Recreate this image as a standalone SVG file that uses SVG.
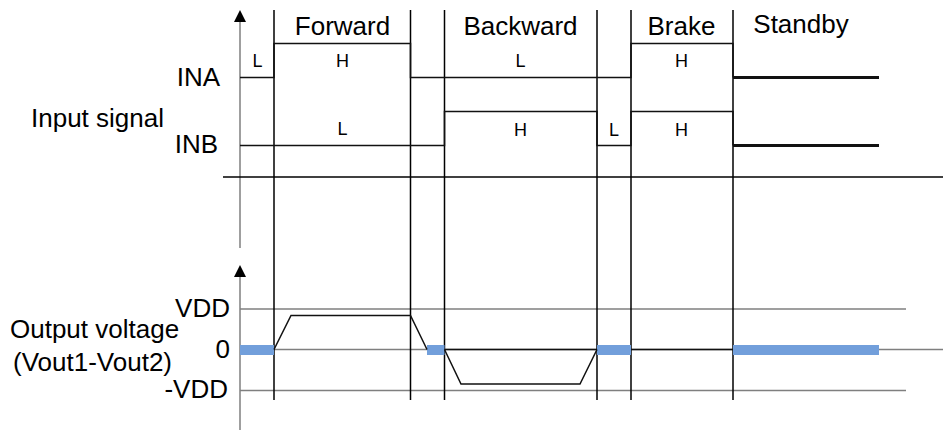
<svg xmlns="http://www.w3.org/2000/svg" width="943" height="430" viewBox="0 0 943 430">
  <style>
    .big { font-family: "Liberation Sans", Arial, sans-serif; font-size: 26px; fill: #000; }
    .small { font-family: "Liberation Sans", Arial, sans-serif; font-size: 18px; fill: #000; text-anchor: middle; }
    .axis { stroke: #7f7f7f; stroke-width: 1.5; fill: none; }
    .grid { stroke: #7f7f7f; stroke-width: 1.5; fill: none; }
    .div { stroke: #000; stroke-width: 1.5; fill: none; }
    .sig { stroke: #111; stroke-width: 1.5; fill: none; }
    .thick { stroke: #111; stroke-width: 3; fill: none; }
    .bar { fill: #729fdb; }
    .head { fill: #000; }
  </style>
  <rect width="943" height="430" fill="#fff"/>

  <g id="axes">
    <line class="axis" x1="240" y1="248" x2="240" y2="20"/>
    <polygon class="head" points="240,10 246,22 234,22"/>
    <line class="axis" x1="240" y1="430" x2="240" y2="275"/>
    <polygon class="head" points="240,265 246,277 234,277"/>
    <line x1="223" y1="177" x2="943" y2="177" stroke="#000" stroke-width="1.5"/>
  </g>

  <g id="grid-lines">
    <line class="grid" x1="240" y1="309" x2="906" y2="309"/>
    <line class="grid" x1="240" y1="349.5" x2="943" y2="349.5"/>
    <line class="grid" x1="240" y1="390.5" x2="906" y2="390.5"/>
  </g>

  <g id="dividers">
    <line class="div" x1="274" y1="10" x2="274" y2="400"/>
    <line class="div" x1="410.5" y1="10" x2="410.5" y2="400"/>
    <line class="div" x1="444.5" y1="10" x2="444.5" y2="400"/>
    <line class="div" x1="597" y1="10" x2="597" y2="400"/>
    <line class="div" x1="631" y1="10" x2="631" y2="400"/>
    <line class="div" x1="733" y1="10" x2="733" y2="400"/>
  </g>

  <g id="ina-signal">
    <polyline class="sig" points="240,77.5 274,77.5 274,43.5 410.5,43.5 410.5,77.5 631,77.5 631,43.5 733,43.5 733,77.5"/>
    <line class="thick" x1="733" y1="77.5" x2="879" y2="77.5"/>
  </g>

  <g id="inb-signal">
    <polyline class="sig" points="240,145.5 444.5,145.5 444.5,111.5 597,111.5 597,145.5 631,145.5 631,111.5 733,111.5 733,145.5"/>
    <line class="thick" x1="733" y1="145.5" x2="879" y2="145.5"/>
  </g>

  <g id="output-bars">
    <rect class="bar" x="240" y="345" width="34" height="10"/>
    <rect class="bar" x="427" y="345" width="17.5" height="10"/>
    <rect class="bar" x="597" y="345" width="34" height="10"/>
    <rect class="bar" x="733" y="345" width="146" height="10"/>
  </g>

  <g id="output-wave">
    <polyline class="sig" points="274,349.5 291,315.5 410.5,315.5 427,349.5"/>
    <polyline class="sig" points="444.5,349.5 461,384 580,384 597,349.5"/>
    <line class="sig" x1="444.5" y1="349.5" x2="597" y2="349.5"/>
    <line class="sig" x1="631" y1="349.5" x2="733" y2="349.5"/>
  </g>

  <g id="phase-labels">
    <text class="big" x="342.5" y="35" text-anchor="middle">Forward</text>
    <text class="big" x="520.5" y="35" text-anchor="middle">Backward</text>
    <text class="big" x="681.5" y="35" text-anchor="middle">Brake</text>
    <text class="big" x="801" y="33" text-anchor="middle">Standby</text>
  </g>

  <g id="level-labels">
    <text class="small" x="257.5" y="66.5">L</text>
    <text class="small" x="342.5" y="67">H</text>
    <text class="small" x="342.5" y="135">L</text>
    <text class="small" x="520.5" y="67">L</text>
    <text class="small" x="520.5" y="136">H</text>
    <text class="small" x="614" y="136">L</text>
    <text class="small" x="681.5" y="67">H</text>
    <text class="small" x="681.5" y="136">H</text>
  </g>

  <g id="axis-labels">
    <text class="big" x="220" y="86" text-anchor="end">INA</text>
    <text class="big" x="218" y="153" text-anchor="end">INB</text>
    <text class="big" x="31" y="127">Input signal</text>
    <text class="big" x="230" y="317" text-anchor="end">VDD</text>
    <text class="big" x="230" y="358" text-anchor="end">0</text>
    <text class="big" x="228" y="398" text-anchor="end">-VDD</text>
    <text class="big" x="10" y="338">Output voltage</text>
    <text class="big" x="13" y="371">(Vout1-Vout2)</text>
  </g>
</svg>
